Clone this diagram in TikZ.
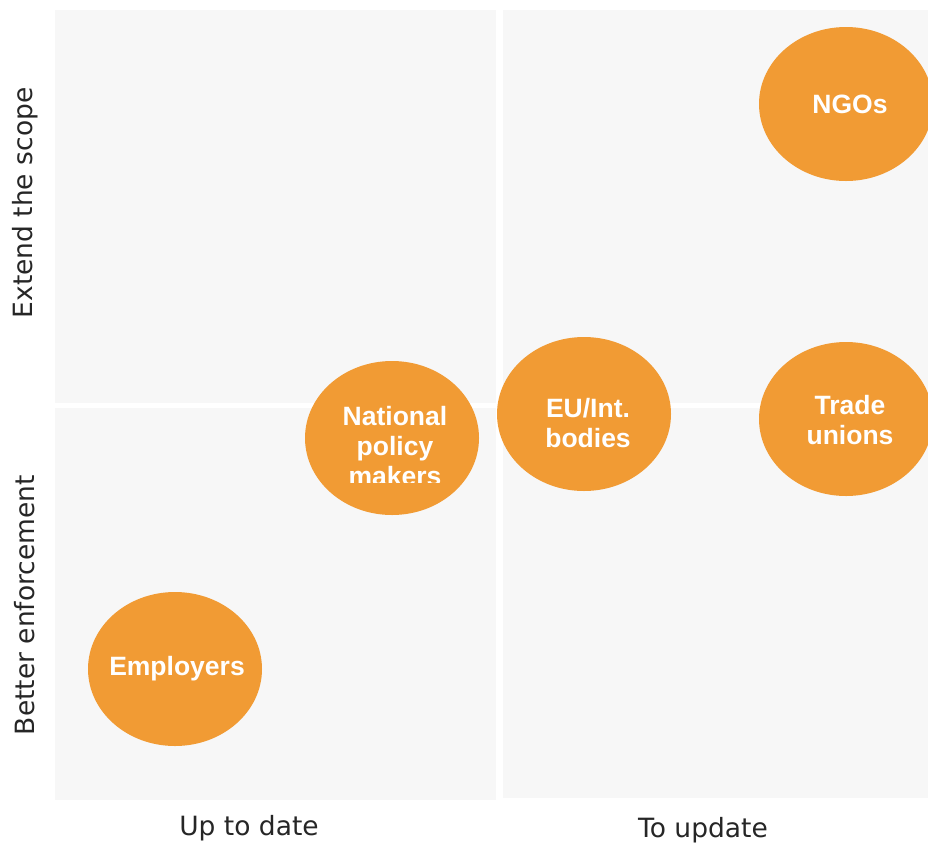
\documentclass[tikz,border=0pt]{standalone}
\usepackage{fontspec}
\setmainfont{DejaVu Sans}
\newfontfamily\blobfont{Liberation Sans}
\usetikzlibrary{shapes.geometric}
\definecolor{panelgray}{RGB}{247,247,247}
\definecolor{bloborange}{RGB}{241,155,52}

\begin{document}
\begin{tikzpicture}[x=1pt, y=-1pt,
    blob/.style={ellipse, fill=bloborange, draw=none, minimum width=174pt, minimum height=154pt, inner sep=0pt},
    blobtext/.style={text=white, align=center, font=\blobfont\bfseries\fontsize{26.5}{30}\selectfont, inner sep=0pt},
    axis/.style={font=\fontsize{26.5}{30}\selectfont, text=black!85, inner sep=0pt}]
    \useasboundingbox (0,0) rectangle (928,844);

    % Panels
    \fill[panelgray] (55,10) rectangle (496,403);
    \fill[panelgray] (503,10) rectangle (928,403);
    \fill[panelgray] (55,408) rectangle (496,800);
    \fill[panelgray] (503,408) rectangle (928,798);

    % Stakeholders
    \node[blob] (ngos) at (846,104) {};
    \node[blobtext] (ngostxt) at ([xshift=4pt]ngos.center) {NGOs};
    \node[blob] (trade) at (846,419) {};
    \node[blobtext] (tradetxt) at ([xshift=4pt,yshift=-1pt]trade.center) {Trade\\unions};
    \node[blob] (eu) at (584,414) {};
    \node[blobtext] (eutxt) at ([xshift=4pt,yshift=-9pt]eu.center) {EU/Int.\\bodies};
    \node[blob] (natl) at (392,438) {};
    \begin{scope}
        \clip (300,380) rectangle (485,482);
        \node[blobtext] (natltxt) at ([xshift=3pt,yshift=-8pt]natl.center) {National\\policy\\makers};
    \end{scope}
    \node[blob] (empl) at (175,669) {};
    \node[blobtext] (empltxt) at ([xshift=2pt]empl.center) {Employers};

    % Axis labels
    \node[axis, rotate=90] (scope) at (25,203) {Extend the scope};
    \node[axis, rotate=90] (enforce) at (25,605) {Better enforcement};
    \node[axis] (uptodate) at (249,828) {Up to date};
    \node[axis] (toupdate) at (703,830) {To update};
\end{tikzpicture}
\end{document}
